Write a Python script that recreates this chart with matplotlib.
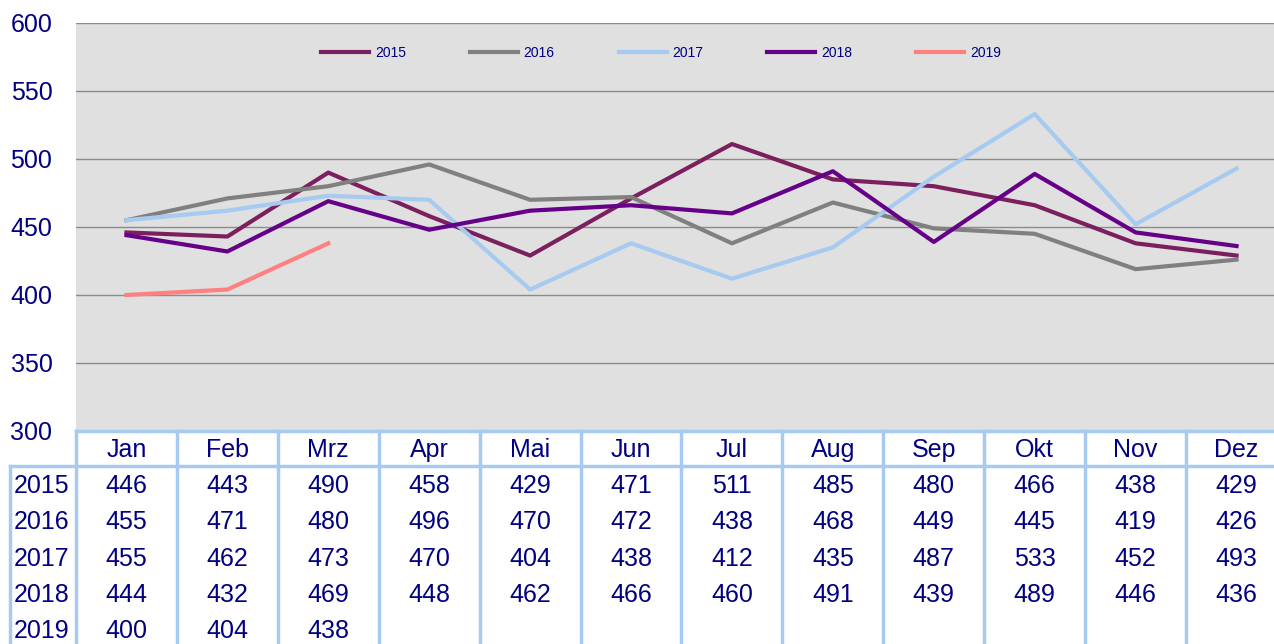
import matplotlib
matplotlib.use("Agg")
import matplotlib.pyplot as plt

months = ["Jan", "Feb", "Mrz", "Apr", "Mai", "Jun", "Jul", "Aug", "Sep", "Okt", "Nov", "Dez"]
years = ["2015", "2016", "2017", "2018", "2019"]
v2015 = [446, 443, 490, 458, 429, 471, 511, 485, 480, 466, 438, 429]
v2016 = [455, 471, 480, 496, 470, 472, 438, 468, 449, 445, 419, 426]
v2017 = [455, 462, 473, 470, 404, 438, 412, 435, 487, 533, 452, 493]
v2018 = [444, 432, 469, 448, 462, 466, 460, 491, 439, 489, 446, 436]
v2019 = [400, 404, 438]
series = [v2015, v2016, v2017, v2018, v2019]
colors = ["#7B1F5E", "#808080", "#A6CAF0", "#660088", "#FF8080"]

NAVY = "#000080"
GRID = "#A6CAF0"
W, H = 1274, 644
plt.rcParams["font.family"] = ["Liberation Sans", "DejaVu Sans"]

fig = plt.figure(figsize=(W / 100, H / 100), dpi=100)

# plot area: x from 76px to ~1287px (clipped by figure edge), y from 23px to 431px
left_px, right_px, top_px, bot_px = 76, 1287, 23, 431
ax = fig.add_axes([left_px / W, 1 - bot_px / H, (right_px - left_px) / W, (bot_px - top_px) / H])
ax.set_facecolor("#E0E0E0")
ax.set_xlim(-0.5, 11.5)
ax.set_ylim(300, 600)
ax.set_yticks(range(300, 601, 50))
ax.set_xticks([])
for y in range(350, 601, 50):
    ax.axhline(y, color="#8C8C8C", lw=1, zorder=1)
for s in ax.spines.values():
    s.set_visible(False)
ax.tick_params(axis="y", length=0, pad=17, labelsize=18, labelcolor=NAVY)

for name, vals, c in zip(years, series, colors):
    ax.plot(range(len(vals)), vals, color=c, lw=3, label=name, zorder=3)

fig.legend(loc="center", bbox_to_anchor=(661 / W, 1 - 53 / H), ncol=5, frameon=False,
           fontsize=10, labelcolor=NAVY, handlelength=3.45, handletextpad=0.43, columnspacing=4.6)

# data table below the plot
tab_top = bot_px
tab_bot = 660
tx = fig.add_axes([left_px / W, 1 - tab_bot / H, (right_px - left_px) / W, (tab_bot - tab_top) / H])
tx.set_xlim(-0.5, 11.5)
tx.set_ylim(tab_bot - tab_top, 0)
tx.axis("off")

col_w = (right_px - left_px) / 12.0
label_left = -0.5 - (left_px - 10) / col_w
head_h = 35
row_h = 36.3

kw = dict(color=GRID, lw=2.5, clip_on=False)
tx.plot([-0.5, 11.5], [0, 0], **kw)
tx.plot([label_left, 11.5], [head_h, head_h], **kw)
for i in range(13):
    tx.plot([i - 0.5, i - 0.5], [0, tab_bot - tab_top], **kw)
tx.plot([label_left, label_left], [head_h, tab_bot - tab_top], **kw)

for i, m in enumerate(months):
    tx.text(i, head_h / 2 + 1, m, ha="center", va="center", fontsize=18, color=NAVY)
for r, (name, vals) in enumerate(zip(years, series)):
    yc = head_h + row_h * (r + 0.5) + 2
    tx.text(label_left + 0.04, yc, name, ha="left", va="center", fontsize=18, color=NAVY, clip_on=False)
    for i, v in enumerate(vals):
        tx.text(i, yc, str(v), ha="center", va="center", fontsize=18, color=NAVY)

fig.savefig("out.png", dpi=100)
